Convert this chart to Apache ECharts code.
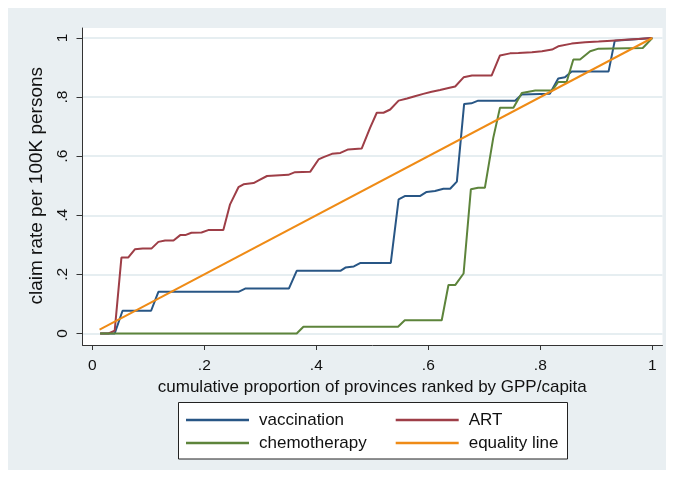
<!DOCTYPE html>
<html>
<head>
<meta charset="utf-8">
<script src="https://cdn.jsdelivr.net/npm/echarts@6/dist/echarts.min.js"></script>
<style>
html,body{margin:0;padding:0;background:#fff;}
#chart{width:673px;height:477px;}
</style>
</head>
<body>
<div id="chart"></div>
<script>
// ---- data ----
const seriesNames = ['vaccination', 'ART', 'chemotherapy', 'equality line'];
const xTickValues = [0, 0.2, 0.4, 0.6, 0.8, 1];
const xTickLabels = ['0', '.2', '.4', '.6', '.8', '1'];
const yTickValues = [0, 0.2, 0.4, 0.6, 0.8, 1];
const yTickLabels = ['0', '.2', '.4', '.6', '.8', '1'];

const vaccination = [[0.014,0.000],[0.040,0.000],[0.054,0.077],[0.105,0.077],[0.118,0.141],[0.261,0.141],[0.273,0.152],[0.351,0.152],[0.365,0.212],[0.443,0.212],[0.452,0.223],[0.467,0.227],[0.479,0.239],[0.533,0.239],[0.547,0.454],[0.558,0.465],[0.585,0.465],[0.597,0.479],[0.612,0.482],[0.627,0.490],[0.639,0.490],[0.651,0.514],[0.664,0.777],[0.677,0.779],[0.689,0.788],[0.755,0.788],[0.767,0.809],[0.817,0.811],[0.832,0.863],[0.844,0.867],[0.856,0.887],[0.922,0.887],[0.933,0.991],[1.000,1.000]];

const art = [[0.014,0.000],[0.029,0.000],[0.040,0.010],[0.052,0.257],[0.064,0.257],[0.076,0.285],[0.090,0.288],[0.106,0.288],[0.118,0.310],[0.130,0.315],[0.145,0.315],[0.157,0.333],[0.166,0.333],[0.177,0.341],[0.195,0.342],[0.207,0.350],[0.234,0.350],[0.246,0.437],[0.261,0.495],[0.270,0.505],[0.288,0.509],[0.297,0.518],[0.312,0.533],[0.350,0.537],[0.362,0.546],[0.389,0.547],[0.404,0.589],[0.413,0.597],[0.428,0.608],[0.443,0.611],[0.457,0.623],[0.481,0.626],[0.496,0.696],[0.508,0.747],[0.520,0.747],[0.532,0.758],[0.547,0.788],[0.562,0.795],[0.576,0.803],[0.591,0.811],[0.606,0.818],[0.621,0.824],[0.636,0.831],[0.648,0.836],[0.663,0.867],[0.678,0.873],[0.713,0.873],[0.728,0.941],[0.746,0.948],[0.761,0.949],[0.785,0.952],[0.803,0.955],[0.821,0.961],[0.832,0.972],[0.856,0.981],[0.880,0.986],[0.904,0.988],[0.927,0.991],[0.951,0.994],[0.975,0.997],[1.000,1.000]];

const chemotherapy = [[0.014,0.000],[0.365,0.000],[0.377,0.023],[0.546,0.023],[0.558,0.045],[0.624,0.045],[0.636,0.164],[0.648,0.164],[0.663,0.203],[0.676,0.488],[0.689,0.493],[0.701,0.493],[0.716,0.662],[0.728,0.764],[0.752,0.764],[0.767,0.814],[0.791,0.822],[0.821,0.822],[0.832,0.851],[0.847,0.851],[0.859,0.927],[0.871,0.927],[0.889,0.955],[0.904,0.964],[0.983,0.966],[1.000,1.000]];

const equalityLine = [[0.013,0.013],[1.000,1.000]];

const colors = ['#285685', '#9e3e47', '#5d843b', '#ef8b16'];

// ---- layout ----
const W = 673, H = 477;
// data frame (0..1 on both axes)
const fx0 = 92.3, fx1 = 652.3, fy0 = 333.5, fy1 = 38.0;
// white plot region
const pL = 82.5, pR = 662.5, pT = 28, pB = 345;
const sx = fx1 - fx0, sy = fy0 - fy1;

const font = "'Liberation Sans', Arial, Helvetica, sans-serif";
const textCol = '#111';
const axisCol = '#333';

function tickFmt(values, labels) {
  return function (v) {
    for (let i = 0; i < values.length; i++) {
      if (Math.abs(values[i] - v) < 1e-6) return labels[i];
    }
    return '';
  };
}

const chart = echarts.init(document.getElementById('chart'), null, {renderer: 'canvas'});
const dataSets = [vaccination, art, chemotherapy, equalityLine];

function legendBlock(names, left) {
  return {
    data: names.map(function (n) { return {name: n, icon: 'rect'}; }),
    orient: 'vertical', left: left, top: 411.5,
    padding: 0, itemGap: 6, itemWidth: 63, itemHeight: 2.6,
    textStyle: {fontSize: 17, color: textCol, fontFamily: font, padding: [0, 0, 0, 5], lineHeight: 17}
  };
}

const option = {
  animation: false,
  backgroundColor: '#ffffff',
  textStyle: {fontFamily: font},
  graphic: {
    elements: [
      {type: 'rect', z: -10, silent: true,
       shape: {x: 8, y: 8, width: 658, height: 462},
       style: {fill: '#e9eff2'}},
      {type: 'rect', z: 1, silent: true,
       shape: {x: 178.5, y: 402.5, width: 389, height: 56.5},
       style: {fill: '#ffffff', stroke: '#222', lineWidth: 1}}
    ]
  },
  grid: [
    {left: fx0, right: W - fx1, top: fy1, bottom: H - fy0, show: false},
    {left: pL, right: W - pR, top: pT, bottom: H - pB, show: true,
     backgroundColor: '#ffffff', borderWidth: 0}
  ],
  xAxis: [
    {gridIndex: 0, type: 'value', min: 0, max: 1, interval: 0.2,
     position: 'bottom', offset: pB - fy0,
     axisLine: {show: false, onZero: false},
     axisTick: {show: true, length: 5, lineStyle: {color: axisCol, width: 1}},
     axisLabel: {show: true, margin: 13, fontSize: 15.5, color: textCol, fontFamily: font,
                 formatter: tickFmt(xTickValues, xTickLabels)},
     splitLine: {show: false},
     name: 'cumulative proportion of provinces ranked by GPP/capita',
     nameLocation: 'middle', nameGap: 30,
     nameTextStyle: {fontSize: 17, color: textCol, fontFamily: font}},
    {gridIndex: 1, type: 'value',
     min: -(fx0 - pL) / sx, max: 1 + (pR - fx1) / sx,
     axisLine: {show: true, onZero: false, lineStyle: {color: axisCol, width: 1}},
     axisTick: {show: false}, axisLabel: {show: false}, splitLine: {show: false}}
  ],
  yAxis: [
    {gridIndex: 0, type: 'value', min: 0, max: 1, interval: 0.2,
     position: 'left', offset: fx0 - pL,
     axisLine: {show: false, onZero: false},
     axisTick: {show: true, length: 6, lineStyle: {color: axisCol, width: 1}},
     axisLabel: {show: true, rotate: 90, margin: 12, fontSize: 15.5, color: textCol, fontFamily: font,
                 formatter: tickFmt(yTickValues, yTickLabels)},
     splitLine: {show: false},
     name: 'claim rate per 100K persons',
     nameLocation: 'middle', nameGap: 30,
     nameTextStyle: {fontSize: 19, color: textCol, fontFamily: font}},
    {gridIndex: 1, type: 'value',
     min: -(pB - fy0) / sy, max: 1 + (fy1 - pT) / sy,
     splitNumber: 5,
     axisLine: {show: true, onZero: false, lineStyle: {color: axisCol, width: 1}},
     axisTick: {show: false}, axisLabel: {show: false},
     splitLine: {show: true, showMinLine: false, showMaxLine: false,
                 lineStyle: {color: '#e6eef1', width: 2}}}
  ],
  legend: [
    legendBlock([seriesNames[0], seriesNames[2]], 186),
    legendBlock([seriesNames[1], seriesNames[3]], 395.7)
  ],
  series: seriesNames.map(function (name, i) {
    return {
      name: name, type: 'line', xAxisIndex: 0, yAxisIndex: 0,
      data: dataSets[i], showSymbol: false, symbol: 'none', clip: false,
      lineStyle: {color: colors[i], width: 2}, itemStyle: {color: colors[i]},
      z: 3 + i
    };
  })
};
chart.setOption(option);
</script>
</body>
</html>
